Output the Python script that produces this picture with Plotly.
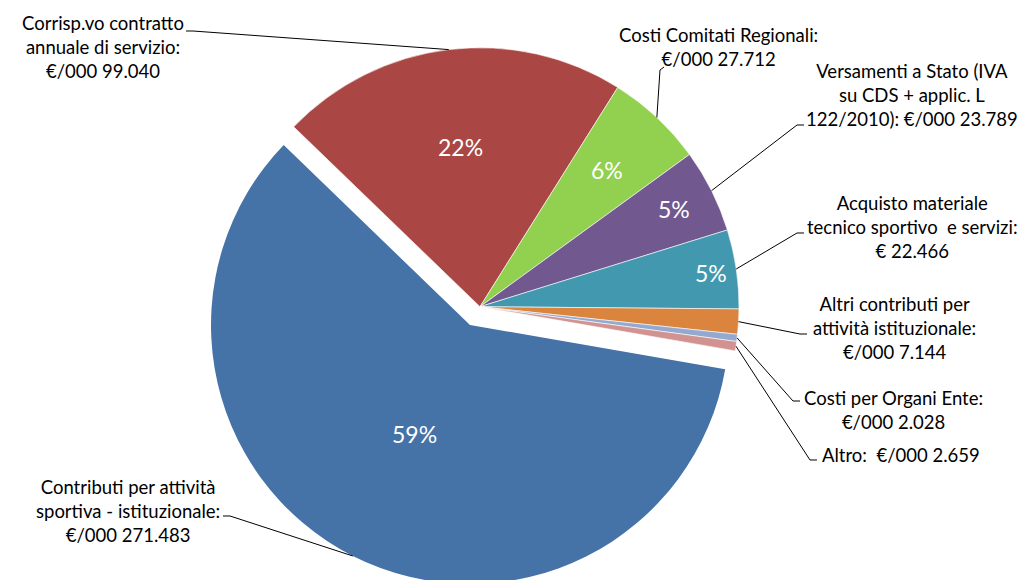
import math
import plotly.graph_objects as go

# slice data, clockwise from the red slice
labels = [
    "Corrisp.vo contratto annuale di servizio",
    "Costi Comitati Regionali",
    "Versamenti a Stato (IVA su CDS + applic. L 122/2010)",
    "Acquisto materiale tecnico sportivo e servizi",
    "Altri contributi per attività istituzionale",
    "Costi per Organi Ente",
    "Altro",
    "Contributi per attività sportiva - istituzionale",
]
values = [99.040, 27.712, 23.789, 22.466, 7.144, 2.028, 2.659, 271.483]
label_texts = [
    "Corrisp.vo contratto<br>annuale di servizio:<br>€/000 99.040",
    "Costi Comitati Regionali:<br>€/000 27.712",
    "Versamenti a Stato (IVA<br>su CDS + applic. L<br>122/2010): €/000 23.789",
    "Acquisto materiale<br>tecnico sportivo  e servizi:<br>€ 22.466",
    "Altri contributi per<br>attività istituzionale:<br>€/000 7.144",
    "Costi per Organi Ente:<br>€/000 2.028",
    "Altro:  €/000 2.659",
    "Contributi per attività<br>sportiva - istituzionale:<br>€/000 271.483",
]
colors = ["#AA4643", "#92D050", "#71588F", "#4198AF", "#DB843D", "#93A9CF", "#D19392", "#4572A7"]

W, H = 1030, 580
OFF = 8                  # page body margin shifts the plot by this much
R = 259
CX, CY = 480, 306.7      # centre of the pie (page pixels)
BX, BY = 470, 325        # centre of the exploded slice
ROT = -46
FONT = "Lato"

# label placement (page pixels): text centre, elbow of leader line, end of short tick
label_pos = [(103, 47), (718, 47), (912, 95), (912, 227), (894, 328), (893, 410), (901, 455), (128, 511)]
elbows = [(193, 31), (660, 70), (797, 125), (797, 233), (800, 334), (793, 401), (810, 460), (230, 516)]
ticks = [(186, 31), (664, 67), (804, 125), (804, 233), (807, 334), (800, 401), (817, 460), (223, 516)]
# radial position of the percentage inside each slice (fraction of radius)
pct_r = [0.62, 0.72, 0.84, 0.9, 0, 0, 0, 0.47]

total = sum(values)
exploded = len(values) - 1
clear = "rgba(0,0,0,0)"


def px(x, y):
    return (x - OFF) / W, 1 - (y - OFF) / H


def domain(cx, cy):
    x0, y1 = px(cx - R, cy - R)
    x1, y0 = px(cx + R, cy + R)
    return dict(x=[x0, x1], y=[max(0, y0), min(1, y1)])


common = dict(labels=labels, values=values, sort=False, direction="clockwise", rotation=ROT,
              textinfo="none", hoverinfo="skip", showlegend=False)

show_a = [i != exploded for i in range(len(values))]
show_b = [i == exploded for i in range(len(values))]

fig = go.Figure()
fig.add_trace(go.Pie(**common, domain=domain(CX, CY),
                     marker=dict(colors=[c if s else clear for c, s in zip(colors, show_a)],
                                 line=dict(color=["white" if s else clear for s in show_a], width=0.6))))
fig.add_trace(go.Pie(**common, domain=domain(BX, BY),
                     marker=dict(colors=[c if s else clear for c, s in zip(colors, show_b)],
                                 line=dict(width=0))))

# leader lines from each slice's mid angle to its label, plus percentages
shapes = []
annotations = []
cum = 0
for i, v in enumerate(values):
    ang = math.radians(ROT + 360 * (cum + v / 2) / total)
    cum += v
    cx, cy = (BX, BY) if i == exploded else (CX, CY)
    sx, sy = math.sin(ang), -math.cos(ang)
    pts = [px(cx + R * sx, cy + R * sy), px(*elbows[i]), px(*ticks[i])]
    path = "M " + " L ".join(f"{x:.5f},{y:.5f}" for x, y in pts)
    shapes.append(dict(type="path", path=path, xref="paper", yref="paper",
                       line=dict(color="black", width=1)))
    if v / total >= 0.03:
        tx, ty = px(cx + pct_r[i] * R * sx, cy + pct_r[i] * R * sy)
        annotations.append(dict(text=f"{round(100 * v / total)}%", x=tx, y=ty, xref="paper", yref="paper",
                                showarrow=False, xanchor="center", yanchor="middle",
                                font=dict(family=FONT, size=23, color="white")))

for txt, (x, y) in zip(label_texts, label_pos):
    ax, ay = px(x, y)
    annotations.append(dict(text=txt, x=ax, y=ay, xref="paper", yref="paper", showarrow=False,
                            xanchor="center", yanchor="middle", align="center",
                            font=dict(family=FONT, size=18.5, color="black")))

fig.update_layout(width=W, height=H, margin=dict(l=0, r=0, t=0, b=0),
                  paper_bgcolor="white", plot_bgcolor="white",
                  shapes=shapes, annotations=annotations)

fig.write_html("out.html")
